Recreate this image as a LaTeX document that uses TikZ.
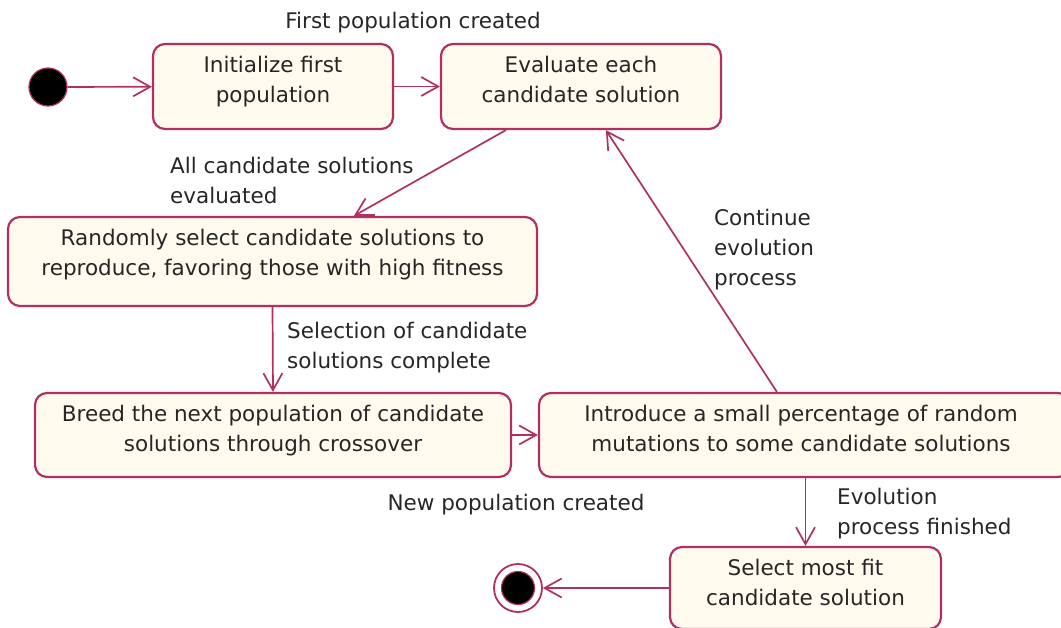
\documentclass[tikz,border=0pt]{standalone}
\usepackage{fontspec}
\setmainfont{DejaVu Sans}
\usetikzlibrary{arrows.meta,calc}
\definecolor{edge}{RGB}{176,48,96}
\definecolor{cream}{RGB}{255,250,238}
\begin{document}
\begin{tikzpicture}[x=1pt,y=-1pt,
  box/.style={draw=edge, fill=cream, line width=2.2pt, rounded corners=12pt, inner sep=0pt},
  txt/.style={inner sep=0pt, align=center, text=black!85, font=\fontsize{21.5}{30}\selectfont},
  lbl/.style={inner sep=0pt, align=left, text=black!85, font=\fontsize{21.5}{30}\selectfont},
  arr/.style={draw=edge, line width=1.7pt, -{Straight Barb[length=17pt,width=19pt,line width=1.7pt]}}]
\useasboundingbox (0,0) rectangle (1061,627);
\clip (0,0) rectangle (1061,627);

% initial and final pseudo-states
\node[circle, fill=black, draw=edge, line width=1.2pt, minimum size=38pt, inner sep=0pt] (start) at (48,87) {};
\node[circle, draw=edge, fill=white, line width=1.8pt, minimum size=48pt, inner sep=0pt] (stop) at (518,588) {};
\node[circle, fill=black, draw=edge, line width=1.2pt, minimum size=33pt, inner sep=0pt] (stopin) at (stop) {};

% activity boxes
\node[box, minimum width=240pt, minimum height=85pt] (init) at (273,86.5) {};
\node[box, minimum width=280pt, minimum height=85pt] (eval) at (581,86.5) {};
\node[box, minimum width=529pt, minimum height=89pt] (rand) at (272.5,261.5) {};
\node[box, minimum width=476pt, minimum height=84pt] (breed) at (273,435) {};
\node[box, minimum width=531pt, minimum height=84pt] (intro) at (804.5,435) {};
\node[box, minimum width=271pt, minimum height=82pt] (sel) at (805.5,588) {};

% box texts
\node[txt, anchor=north] (tinit) at ($(init.north)+(0,13)$) {Initialize first\\population};
\node[txt, anchor=north] (teval) at ($(eval.north)+(0,13)$) {Evaluate each\\candidate solution};
\node[txt, anchor=north] (trand) at ($(rand.north)+(0,13)$) {Randomly select candidate solutions to\\reproduce, favoring those with high fitness};
\node[txt, anchor=north] (tbreed) at ($(breed.north)+(0,13)$) {Breed the next population of candidate\\solutions through crossover};
\node[txt, anchor=north] (tintro) at ($(intro.north)+(-3.5,13)$) {Introduce a small percentage of random\\mutations to some candidate solutions};
\node[txt, anchor=north] (tsel) at ($(sel.north)+(0,13)$) {Select most fit\\candidate solution};

% transition labels
\node[txt, anchor=north] (l1) at (413,12) {First population created};
\node[lbl, anchor=north west] (l2) at (170,156.5) {All candidate solutions\\evaluated};
\node[lbl, anchor=north west] (l3) at (714,208.5) {Continue\\evolution\\process};
\node[lbl, anchor=north west] (l4) at (287,321.5) {Selection of candidate\\solutions complete};
\node[txt, anchor=north] (l5) at (516,493.5) {New population created};
\node[lbl, anchor=north west] (l6) at (837,487.5) {Evolution\\process finished};

% transitions
\draw[arr] (start) -- (init);
\draw[arr] (init) -- (eval);
\draw[arr] ($(eval.south west)+(66,0)$) -- ($(rand.north west)+(347,0)$);
\draw[arr] (rand.south) -- (breed.north);
\draw[arr] (breed.east) -- (intro.west);
\draw[arr] ($(intro.north west)+(239,0)$) -- ($(eval.south west)+(166,0)$);
\draw[arr] (sel.north |- intro.south) -- (sel.north);
\draw[arr] (sel.west) -- (stop.east);
\end{tikzpicture}
\end{document}
